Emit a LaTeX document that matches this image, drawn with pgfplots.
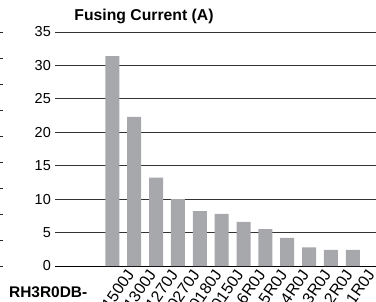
\documentclass[border=0pt]{standalone}
\usepackage{pgfplots}
\pgfplotsset{compat=1.18}
\usepackage{fontspec}
\setmainfont{Liberation Sans}
\definecolor{bargray}{RGB}{167,168,172}
\begin{document}
\begin{tikzpicture}[x=1bp,y=1bp]
\useasboundingbox (0,0) rectangle (376,302);
\clip (0,0) rectangle (376,302);
\begin{axis}[
  at={(55bp,36bp)}, anchor=south west,
  scale only axis, width=323bp, height=234bp,
  xmin=-2.62, xmax=12.15, ymin=0, ymax=35,
  axis x line*=bottom, axis y line*=left,
  x axis line style={-, black, line width=1bp},
  y axis line style={draw=none},
  ytick={0,5,...,35},
  ymajorgrids, grid style={black!80, line width=0.8bp},
  major tick length=0,
  /pgf/number format/assume math mode=true,
  yticklabel style={font=\fontsize{14.5}{16}\selectfont, inner sep=0pt, anchor=east, xshift=-4bp},
  xtick={0,...,11},
  xticklabels={1500J,1300J,1270J,0270J,0180J,0150J,6R0J,5R0J,4R0J,3R0J,2R0J,1R0J},
  xticklabel style={font=\fontsize{16}{18}\selectfont, rotate=55, anchor=east, inner sep=0pt, xshift=6bp, yshift=-18bp},
  clip=false,
]
\addplot[ybar, bar width=14bp, fill=bargray, draw=none] coordinates {
(0,31.4) (1,22.3) (2,13.2) (3,10.0) (4,8.2) (5,7.8) (6,6.6) (7,5.5) (8,4.2) (9,2.8) (10,2.4) (11,2.4)};
\end{axis}
\node[font=\fontsize{15.8}{18}\selectfont\bfseries, anchor=center] at (144,286) {Fusing Current (A)};
\node[font=\fontsize{15.5}{17}\selectfont\bfseries, anchor=base west, inner sep=0pt] at (9,5) {RH3R0DB-};
\foreach \yy in {32.3,58.3,84.3,110.3,136.3,162.3,188.3,214.3,240.3,266.3}
  \draw[black!85, line width=0.8bp] (0,302-\yy) -- (3.5,302-\yy);
\end{tikzpicture}
\end{document}
